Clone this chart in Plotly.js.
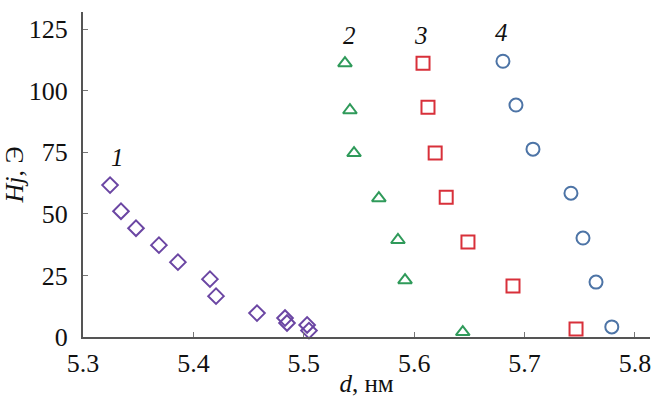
<!DOCTYPE html>
<html>
<head>
<meta charset="utf-8">
<script src="https://cdn.plot.ly/plotly-3.0.1.min.js"></script>
<style>html,body{margin:0;padding:0;background:#fff;}#chart{width:652px;height:397px;}</style>
</head>
<body>
<div id="chart"></div>
<script>
// Series 1 (diamonds)
const d1 = [5.3245, 5.3344, 5.348, 5.3688, 5.386, 5.415, 5.4205, 5.4576, 5.483, 5.4848, 5.503, 5.5047];
const h1 = [61.7, 51.1, 44.2, 37.3, 30.4, 23.5, 16.6, 9.7, 7.7, 5.7, 4.9, 2.6];
// Series 2 (triangles)
const d2 = [5.5373, 5.5418, 5.5455, 5.568, 5.5853, 5.5917, 5.644];
const h2 = [111.2, 92.1, 74.7, 56.4, 39.4, 23.1, 2.0];
// Series 3 (squares)
const d3 = [5.608, 5.6125, 5.619, 5.629, 5.6487, 5.6895, 5.7466];
const h3 = [111.2, 93.3, 74.7, 56.8, 38.6, 20.7, 3.2];
// Series 4 (circles)
const d4 = [5.6804, 5.6922, 5.7076, 5.742, 5.7529, 5.7647, 5.779];
const h4 = [112.0, 94.2, 76.3, 58.4, 40.2, 22.3, 4.1];
const seriesLabels = ["1", "2", "3", "4"];
const xTicks = [5.3, 5.4, 5.5, 5.6, 5.7, 5.8];
const xTickText = ["5.3", "5.4", "5.5", "5.6", "5.7", "5.8"];
const yTicks = [0, 25, 50, 75, 100, 125];
const yTickText = ["0", "25", "50", "75", "100", "125"];

const serif = "Liberation Serif";
function tr(x, y, sym, col, size) {
  return {x: x, y: y, type: "scatter", mode: "markers", cliponaxis: false,
    marker: {symbol: sym, size: size, color: col, line: {color: col, width: 2}}};
}
const data = [
  tr(d1, h1, "diamond-open", "#6b46a3", 12),
  tr(d2, h2, "triangle-up-open", "#2f9a5a", 12),
  tr(d3, h3, "square-open", "#d8303a", 13),
  tr(d4, h4, "circle-open", "#4d74a6", 13)
];
const labelPos = [[5.331, 73], [5.541, 122.6], [5.606, 122.6], [5.6795, 123.8]];
const annotations = seriesLabels.map((t, i) => ({
  x: labelPos[i][0], y: labelPos[i][1], xref: "x", yref: "y", text: "<i>" + t + "</i>",
  showarrow: false, font: {family: serif, size: 25, color: "#111"}
}));
const layout = {
  width: 652, height: 397,
  margin: {l: 83, r: 2, t: 12, b: 60},
  paper_bgcolor: "#fff", plot_bgcolor: "#fff",
  showlegend: false,
  font: {family: serif, color: "#111"},
  xaxis: {range: [5.3, 5.8136], tickvals: xTicks, ticktext: xTickText,
    showgrid: false, zeroline: false, showline: true, linecolor: "#555", linewidth: 2,
    ticks: "inside", ticklen: 5, tickcolor: "#777", tickwidth: 1,
    tickfont: {family: serif, size: 26, color: "#111"}, ticklabelstandoff: 2,
    title: {text: "<i>d</i>, нм", font: {family: serif, size: 25, color: "#111"}, standoff: 0}},
  yaxis: {range: [0, 132], tickvals: yTicks, ticktext: yTickText,
    showgrid: false, zeroline: false,
    showline: true, linecolor: "#555", linewidth: 2,
    ticks: "inside", ticklen: 5, tickcolor: "#777", tickwidth: 1,
    tickfont: {family: serif, size: 26, color: "#111"}, ticklabelstandoff: 8,
    title: {text: "<i>Hj</i>, Э", font: {family: serif, size: 26, color: "#111"}, standoff: 6}},
  annotations: annotations
};
Plotly.newPlot("chart", data, layout, {displayModeBar: false, staticPlot: true});
</script>
</body>
</html>
